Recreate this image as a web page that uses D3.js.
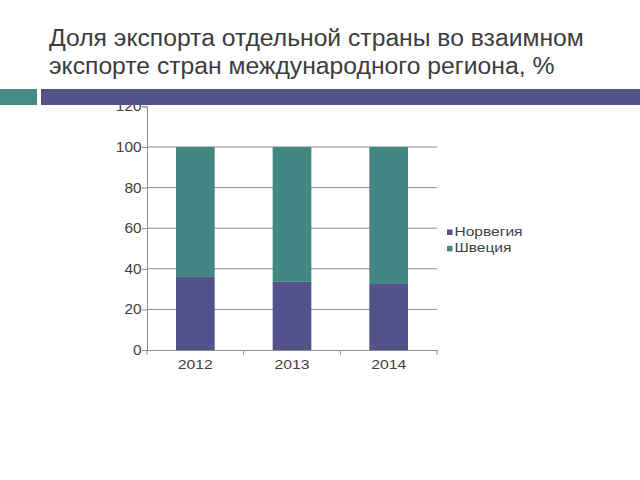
<!DOCTYPE html>
<html><head><meta charset="utf-8">
<script src="https://cdn.jsdelivr.net/npm/d3@7"></script>
<style>body{margin:0;background:#fff;} svg{display:block;}</style>
</head><body>
<script>
const categories = ["2012", "2013", "2014"];
const seriesNames = ["Норвегия", "Швеция"];
const norway = [36, 33.6, 32.5];
const sweden = [64, 66.4, 67.5];
const yTicks = [0, 20, 40, 60, 80, 100, 120];
const titleLines = ["Доля экспорта отдельной страны во взаимном", "экспорте стран международного региона, %"];

const colors = ["#54528a", "#438683"];
const FONT = "Arial, 'Liberation Sans', sans-serif";
const W = 640, H = 480;
const svg = d3.select("body").append("svg").attr("width", W).attr("height", H);

// title
svg.append("g").selectAll("text").data(titleLines).join("text")
  .attr("x", 49).attr("y", (d, i) => 46 + i * 28.3)
  .attr("font-family", FONT)
  .attr("font-size", 24.7).attr("fill", "#3c3c3c").text(d => d);

const pLeft = 147, pRight = 437, pTop = 106.4, pBottom = 350;
const x = d3.scaleBand().domain(categories).range([pLeft, pRight]).paddingInner(0.6).paddingOuter(0.3);
const y = d3.scaleLinear().domain([0, 120]).range([pBottom, pTop]);

// gridlines
svg.append("g").selectAll("line").data(yTicks.filter(t => t > 0 && t < 120)).join("line")
  .attr("x1", pLeft).attr("x2", pRight).attr("y1", d => y(d)).attr("y2", d => y(d))
  .attr("stroke", "#8c8c8c").attr("stroke-width", 1);

// stacked bars
const data = categories.map((c, i) => ({cat: c, "Норвегия": norway[i], "Швеция": sweden[i]}));
const stack = d3.stack().keys(seriesNames)(data);
svg.append("g").selectAll("g").data(stack).join("g").attr("fill", (d, i) => colors[i])
  .selectAll("rect").data(d => d).join("rect")
  .attr("x", d => x(d.data.cat)).attr("width", x.bandwidth())
  .attr("y", d => y(d[1])).attr("height", d => y(d[0]) - y(d[1]));

// y axis
const yAxis = svg.append("g").attr("transform", `translate(${pLeft},0)`)
  .call(d3.axisLeft(y).tickValues(yTicks).tickSize(5).tickPadding(0));
yAxis.select(".domain").attr("stroke", "#8c8c8c");
yAxis.selectAll(".tick line").attr("stroke", "#8c8c8c");
yAxis.selectAll("text").attr("font-family", FONT)
  .attr("font-size", 14).attr("fill", "#404040").attr("transform", "scale(1.1,1)");

// x axis
const xAxis = svg.append("g").attr("transform", `translate(0,${pBottom})`)
  .call(d3.axisBottom(x).tickSize(0).tickPadding(9));
xAxis.select(".domain").attr("stroke", "#8c8c8c");
xAxis.selectAll("text").attr("font-family", FONT)
  .attr("font-size", 13.7).attr("fill", "#404040").attr("transform", "scale(1.15,1)");
const step = (pRight - pLeft) / categories.length;
svg.append("g").selectAll("line").data(d3.range(categories.length + 1)).join("line")
  .attr("x1", i => pLeft + i * step).attr("x2", i => pLeft + i * step)
  .attr("y1", pBottom).attr("y2", pBottom + 5).attr("stroke", "#8c8c8c");

// legend
const leg = svg.append("g").selectAll("g").data(seriesNames).join("g")
  .attr("transform", (d, i) => `translate(447,${236 + i * 16.3})`);
leg.append("rect").attr("x", 0).attr("y", -6.5).attr("width", 5.5).attr("height", 5.5)
  .attr("fill", (d, i) => colors[i]);
leg.append("text").attr("x", 6.3).attr("y", 0)
  .attr("font-family", FONT).attr("transform", "scale(1.18,1)")
  .attr("font-size", 13.2).attr("fill", "#404040").text(d => d);

// header bars (drawn on top)
svg.append("rect").attr("x", 0).attr("y", 89).attr("width", 37).attr("height", 16).attr("fill", "#458a86");
svg.append("rect").attr("x", 41).attr("y", 89).attr("width", 599).attr("height", 16).attr("fill", "#54528a");
</script>
</body></html>
